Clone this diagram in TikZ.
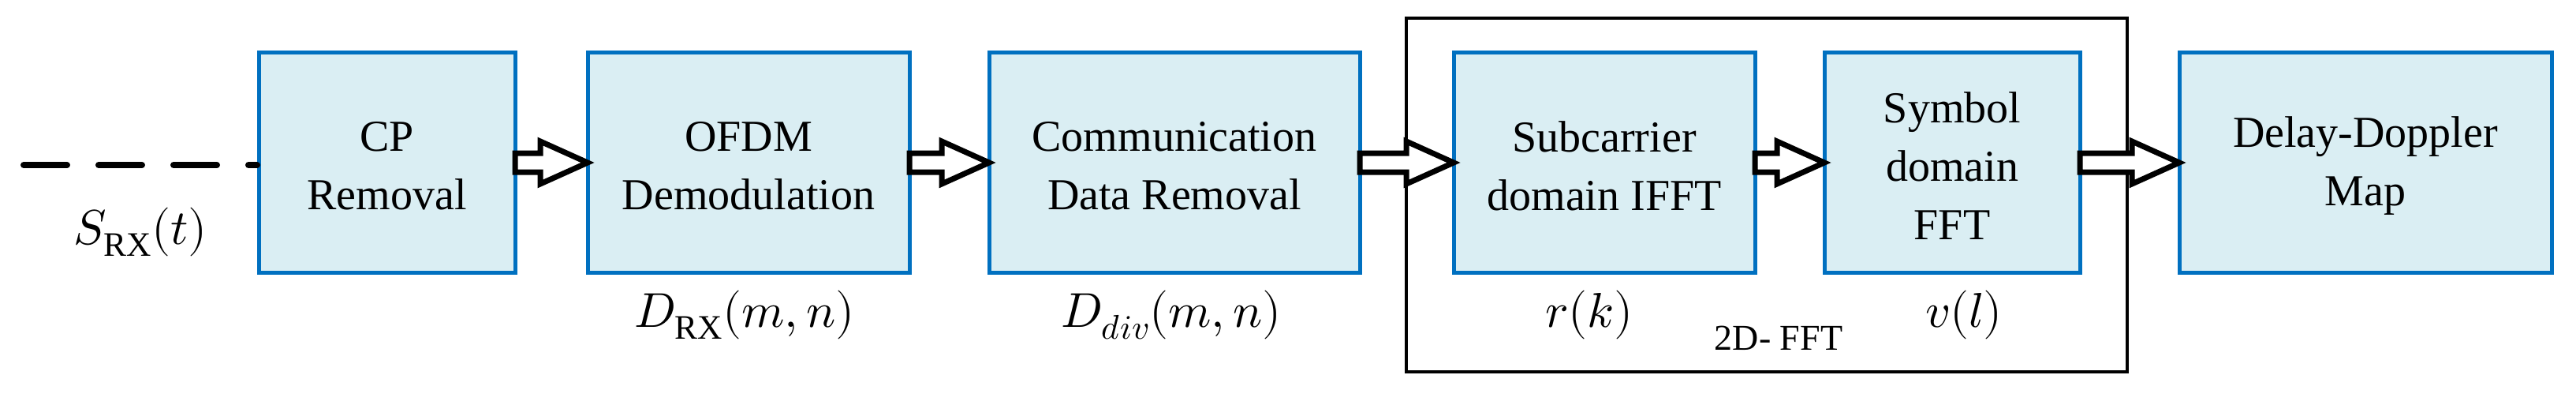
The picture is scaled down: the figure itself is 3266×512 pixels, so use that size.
\documentclass[tikz,border=0pt]{standalone}
\usepackage{unicode-math}
\setmathfont{Latin Modern Math}
\setmainfont{Liberation Serif}
\begin{document}
\begin{tikzpicture}[x=1pt,y=-1pt,
  blk/.style={draw=boxblue,fill=boxfill,line width=5pt},
  txt/.style={font=\rmfamily\fontsize{56}{74}\selectfont,align=center},
  lbl/.style={font=\fontsize{62}{66}\selectfont},
  fat/.style={draw=black,fill=white,line width=7pt,line join=miter}]
\definecolor{boxblue}{RGB}{0,112,192}
\definecolor{boxfill}{RGB}{218,238,243}
\useasboundingbox (0,0) rectangle (3266,512);
\newcommand{\blkbox}[4]{\draw[blk] (#1,66) rectangle (#2,345);
  \node[txt] (#3) at ({(#1+#2)/2},210) {#4};}
\draw[line width=4pt] (1783,23) rectangle (2697,471);
\blkbox{328}{653}{cp}{CP\\Removal}
\blkbox{745}{1153}{ofdm}{OFDM\\Demodulation}
\blkbox{1254}{1724}{comm}{Communication\\Data Removal}
\blkbox{1843}{2225}{sub}{Subcarrier\\domain IFFT}
\blkbox{2313}{2637}{sym}{Symbol\\domain\\FFT}
\blkbox{2763}{3235}{dd}{Delay-Doppler\\Map}
\newcommand{\fatarrow}[2]{\draw[fat] (#1,194) -- ({#2-60},194) -- ({#2-60},179) -- (#2,206) -- ({#2-60},233) -- ({#2-60},218) -- (#1,218) -- cycle;}
\fatarrow{653}{745}
\fatarrow{1153}{1254}
\fatarrow{1724}{1843}
\fatarrow{2225}{2313}
\fatarrow{2637}{2763}
\coordinate (start) at (30,209);
\coordinate (end) at (326,209);
\draw[line width=8pt,line cap=round,dash pattern=on 55pt off 40pt] (start) -- (end);
\node[lbl] (s) at (178,294) {$S_{\mathrm{RX}}(t)$};
\node[lbl] (d1) at (944,399) {$D_{\mathrm{RX}}(m,n)$};
\node[lbl] (d2) at (1485,399) {$D_{div}(m,n)$};
\node[lbl] (r) at (2015,399) {$r(k)$};
\node[lbl] (v) at (2490,399) {$v(l)$};
\node[font=\rmfamily\fontsize{46}{50}\selectfont] (f) at (2255,428) {2D- FFT};
\end{tikzpicture}
\end{document}
